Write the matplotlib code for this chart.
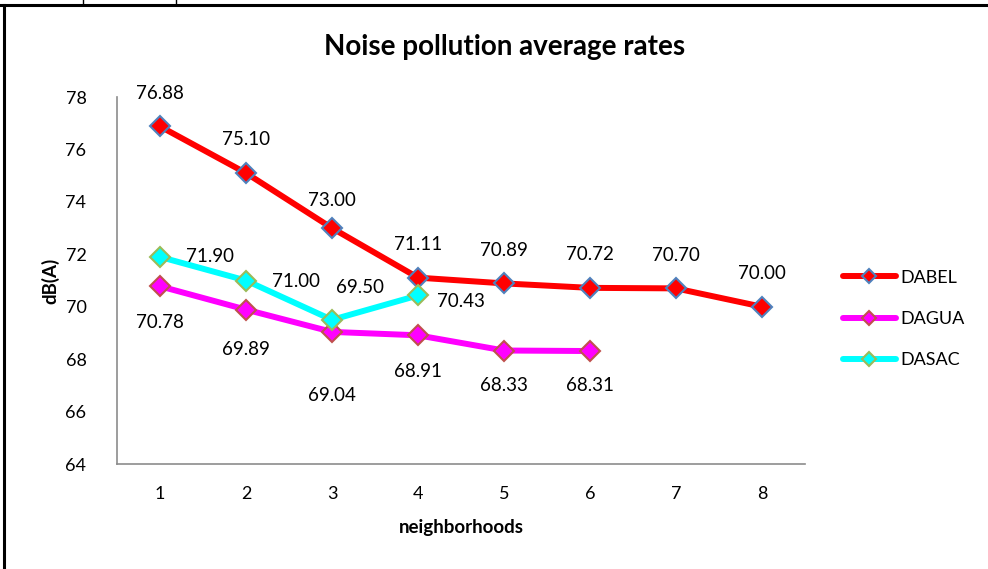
import matplotlib.pyplot as plt
from matplotlib.lines import Line2D

plt.rcParams['font.family'] = ['Lato', 'DejaVu Sans']

neighborhoods = [1, 2, 3, 4, 5, 6, 7, 8]
dabel = [76.88, 75.10, 73.00, 71.11, 70.89, 70.72, 70.70, 70.00]
dagua = [70.78, 69.89, 69.04, 68.91, 68.33, 68.31]
dasac = [71.90, 71.00, 69.50, 70.43]

# label offsets in points (dx, dy)
dabel_off = [(0, 24), (0, 24), (0, 20), (0, 24), (0, 24), (0, 24), (0, 24), (0, 24)]
dagua_off = [(0, -26), (0, -29), (0, -46), (0, -26), (0, -25), (0, -25)]
dasac_off = [(36, 0), (36, -1), (20, 23), (31, -4)]

series = [
    ('DABEL', dabel, '#ff0000', '#4f81bd', dabel_off),
    ('DAGUA', dagua, '#ff00ff', '#c0504d', dagua_off),
    ('DASAC', dasac, '#00ffff', '#9bbb59', dasac_off),
]

fig = plt.figure(figsize=(9.88, 5.69), dpi=100)
ax = fig.add_axes([0.1184, 0.1845, 0.6964, 0.6450])

handles = []
for name, vals, col, edge, offs in series:
    xs = neighborhoods[:len(vals)]
    ax.plot(xs, vals, color=col, lw=4.3, zorder=2, solid_capstyle='round')
    ax.plot(xs, vals, ls='none', marker='D', ms=10, mfc=col, mec=edge,
            mew=1.5, zorder=3)
    for x, v, (dx, dy) in zip(xs, vals, offs):
        ax.annotate(f'{v:.2f}', (x, v), xytext=(dx, dy),
                    textcoords='offset points', ha='center', va='center',
                    fontsize=13.5)
    handles.append(Line2D([], [], color=col, lw=4.3, marker='D', ms=7,
                          mfc=col, mec=edge, mew=1.5, label=name,
                          solid_capstyle='round'))

ax.set_xlim(0.5, 8.5)
ax.set_ylim(64, 78)
ax.set_xticks(neighborhoods)
ax.set_yticks(range(64, 79, 2))
ax.tick_params(length=0, labelsize=13, pad=16)
ax.tick_params(axis='y', pad=22)
for s in ['top', 'right']:
    ax.spines[s].set_visible(False)
for s in ['left', 'bottom']:
    ax.spines[s].set_color('#8c8c8c')
    ax.spines[s].set_linewidth(1.2)

fig.text(505 / 988, 1 - 47 / 569, 'Noise pollution average rates',
         fontsize=20, fontweight='bold', ha='center', va='center')
ax.set_xlabel('neighborhoods', fontsize=13.5, fontweight='bold', labelpad=12)
ax.set_ylabel('dB(A)', fontsize=13.5, fontweight='bold', labelpad=4)

ax.legend(handles=handles, loc='center left', bbox_to_anchor=(1.032, 0.395),
          frameon=False, fontsize=13, handlelength=2.9, handletextpad=0.25,
          labelspacing=1.4)

# outer frame lines
fig.add_artist(Line2D([0, 1], [1 - 5 / 569] * 2, color='black', lw=2.2))
fig.add_artist(Line2D([4 / 988] * 2, [0, 1 - 5 / 569], color='black', lw=2.2))
for xp in [83, 176]:
    fig.add_artist(Line2D([xp / 988] * 2, [1 - 5 / 569, 1], color='black',
                          lw=1))

fig.savefig('out.png', dpi=100)
